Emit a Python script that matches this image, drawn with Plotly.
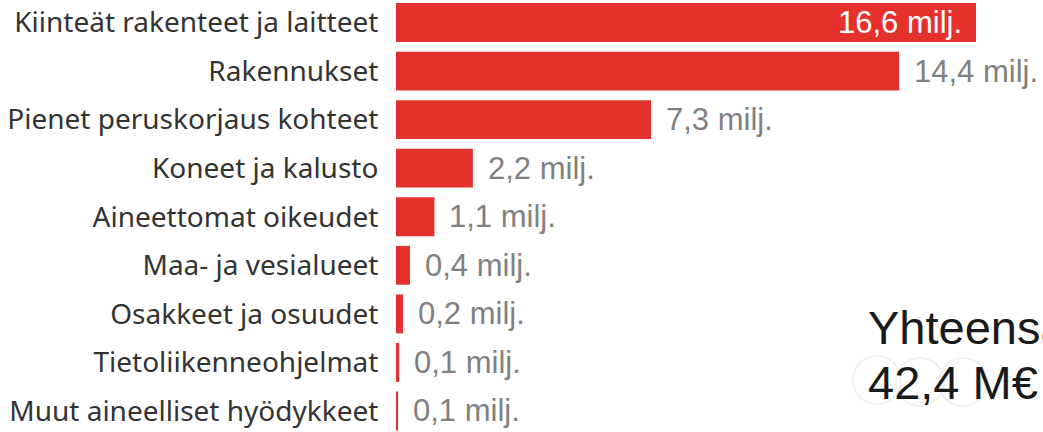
import plotly.graph_objects as go

categories = [
    "Kiinteät rakenteet ja laitteet",
    "Rakennukset",
    "Pienet peruskorjaus kohteet",
    "Koneet ja kalusto",
    "Aineettomat oikeudet",
    "Maa- ja vesialueet",
    "Osakkeet ja osuudet",
    "Tietoliikenneohjelmat",
    "Muut aineelliset hyödykkeet",
]
values = [16.6, 14.4, 7.3, 2.2, 1.1, 0.4, 0.2, 0.09, 0.05]
value_labels = ["16,6 milj.", "14,4 milj.", "7,3 milj.", "2,2 milj.", "1,1 milj.",
                "0,4 milj.", "0,2 milj.", "0,1 milj.", "0,1 milj."]
total_title = "Yhteensä"
total_value = "42,4 M€"

BAR = "#E5312B"
W, H = 1043, 432
ML = 396
PW = W - ML
PITCH = 48.56
ROW0 = 22.5


def px(x):
    return (x - ML) / PW


def py(y):
    return 1 - y / H


fig = go.Figure()
fig.add_trace(go.Bar(
    y=categories, x=values, orientation="h",
    marker=dict(color=BAR, line=dict(width=0)),
    hoverinfo="skip",
))

for i, (c, v, lab) in enumerate(zip(categories, values, value_labels)):
    inside = i == 0
    fig.add_annotation(
        x=v, y=c, xref="x", yref="y", text=lab, showarrow=False,
        xanchor="right" if inside else "left",
        xshift=-12 if inside else 13,
        font=dict(family="Liberation Sans, Arial", size=31,
                  color="#FFFFFF" if inside else "#808080"),
    )

# faint background decoration behind the total
for (x0, y0, x1, y1) in [(853, 356, 901, 404), (896, 358, 944, 406), (939, 358, 987, 406)]:
    fig.add_shape(type="circle", xref="paper", yref="paper",
                  x0=px(x0), x1=px(x1), y0=py(y1), y1=py(y0),
                  line=dict(color="#f0f0f0", width=2), layer="below")

fig.add_annotation(x=px(866), y=py(327), xref="paper", yref="paper",
                   text=total_title, showarrow=False, xanchor="left", yanchor="middle",
                   font=dict(family="Liberation Sans, Arial", size=47, color="#1a1a1a"))
fig.add_annotation(x=px(866), y=py(382), xref="paper", yref="paper",
                   text=total_value, showarrow=False, xanchor="left", yanchor="middle",
                   font=dict(family="Liberation Sans, Arial", size=47, color="#1a1a1a"))

top = -ROW0 / PITCH
bottom = top + H / PITCH

fig.update_layout(
    width=W, height=H,
    margin=dict(l=ML, r=0, t=0, b=0),
    paper_bgcolor="white", plot_bgcolor="white",
    bargap=0.2, showlegend=False,
    xaxis=dict(range=[0, PW / 34.94], visible=False, fixedrange=True),
    yaxis=dict(categoryorder="array", categoryarray=categories,
               range=[bottom, top], showgrid=False, zeroline=False, showline=False,
               ticks="outside", ticklen=11, tickcolor="rgba(0,0,0,0)",
               tickfont=dict(family="Noto Sans, Open Sans", size=28, color="#333333"),
               fixedrange=True),
)

fig.write_html("out.html", config={"displayModeBar": False},
               post_script="document.body.style.margin='0';document.body.style.overflow='hidden';")
